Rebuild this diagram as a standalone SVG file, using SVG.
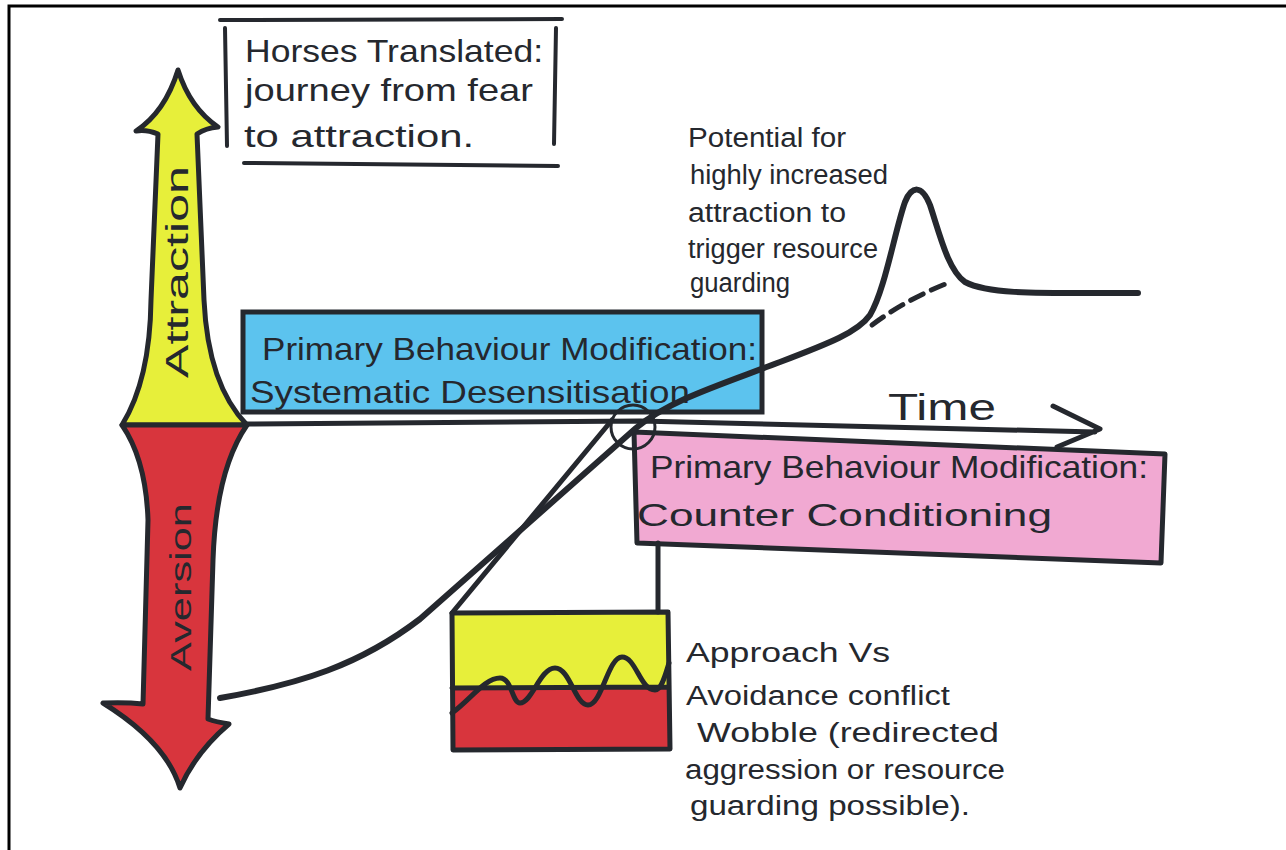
<svg xmlns="http://www.w3.org/2000/svg" width="1286" height="850" viewBox="0 0 1286 850">
<style>
.ink{fill:none;stroke:#25282e;stroke-linecap:round;stroke-linejoin:round}
.t{font-family:"Liberation Sans","Open Sans",sans-serif;fill:#25282e}
.big{font-size:32px}
.mid{font-size:27px}
</style>
<rect width="1286" height="850" fill="#ffffff"/>
<path d="M9,850 L9,6 L1286,6" fill="none" stroke="#000" stroke-width="3"/>

<g id="title">
  <path class="ink" stroke-width="4" d="M220,20 L562,19 M225,28 L227,146 M556,28 L554,144 M244,163 L558,166"/>
  <text class="t big" x="245" y="62" textLength="298" lengthAdjust="spacingAndGlyphs">Horses Translated:</text>
  <text class="t big" x="245" y="101" textLength="288" lengthAdjust="spacingAndGlyphs">journey from fear</text>
  <text class="t big" x="244" y="147" textLength="230" lengthAdjust="spacingAndGlyphs">to attraction.</text>
</g>

<g id="attraction">
  <path d="M122,425 Q150,380 151,300 L158,134 Q146,129 136,131 Q165,112 178,70 Q190,108 218,127 Q206,128 197,134 L204,300 Q208,385 247,425 Z" fill="#e7ef3a" stroke="#25282e" stroke-width="5" stroke-linejoin="round"/>
  <text class="t" font-size="31" transform="translate(188,272) rotate(-90)" text-anchor="middle" textLength="212" lengthAdjust="spacingAndGlyphs">Attraction</text>
</g>

<g id="aversion">
  <path d="M122,425 L247,425 Q216,470 213,560 L208,719 Q216,722 229,724 Q196,752 180,788 Q166,742 103,703 Q126,702 143,704 L148,520 Q146,460 122,425 Z" fill="#d8353d" stroke="#25282e" stroke-width="5" stroke-linejoin="round"/>
  <text class="t" font-size="30" transform="translate(191,587) rotate(-90)" text-anchor="middle" textLength="168" lengthAdjust="spacingAndGlyphs">Aversion</text>
</g>

<g id="desensitisation">
  <rect x="243" y="312" width="519" height="100" fill="#5cc3ee" stroke="#25282e" stroke-width="5"/>
  <text class="t big" x="262" y="360" textLength="495" lengthAdjust="spacingAndGlyphs">Primary Behaviour Modification:</text>
  <text class="t big" x="250" y="403" textLength="440" lengthAdjust="spacingAndGlyphs">Systematic Desensitisation</text>
</g>

<g id="counter-conditioning">
  <path d="M634,432 L1165,454 L1161,563 L637,543 Z" fill="#f1a9d2" stroke="#25282e" stroke-width="5" stroke-linejoin="round"/>
  <text class="t big" x="650" y="478" textLength="498" lengthAdjust="spacingAndGlyphs">Primary Behaviour Modification:</text>
  <text class="t big" x="637" y="526" textLength="415" lengthAdjust="spacingAndGlyphs">Counter Conditioning</text>
</g>

<g id="time-axis">
  <path class="ink" stroke-width="5" d="M245,424 L640,421 L1095,432 M1053,406 L1100,429 L1057,447"/>
  <text class="t" font-size="36" x="888" y="420" textLength="108" lengthAdjust="spacingAndGlyphs">Time</text>
</g>

<g id="wobble-box">
  <rect x="452" y="613" width="216" height="75" fill="#e7ef3a"/>
  <rect x="452" y="688" width="216" height="62" fill="#d8353d"/>
  <path class="ink" stroke-width="5" d="M452,613 L668,612 L670,749 L453,750 Z M452,688 L668,687"/>
  <path class="ink" stroke-width="5" d="M452,713 C470,700 485,678 500,678 C512,678 512,703 520,703 C532,703 540,668 555,668 C570,668 575,705 588,705 C602,705 608,657 622,657 C636,657 640,690 655,690 C662,690 666,672 669,663"/>
</g>

<g id="connectors">
  <path class="ink" stroke-width="6" d="M220,698 C300,684 360,665 420,619 L636,428 C670,400 720,385 780,362 C830,343 858,332 870,315 C885,290 895,230 905,202 C912,185 922,185 930,205 C940,235 948,270 965,282 C990,295 1040,293 1138,293"/>
  <path class="ink" stroke-width="5" stroke-dasharray="14 9" d="M872,325 Q905,300 948,283"/>
  <path class="ink" stroke-width="5" d="M452,613 L612,420 M658,543 L658,612"/>
  <circle class="ink" cx="633" cy="427" r="22" stroke-width="3"/>
</g>

<g id="peak-note">
  <text class="t mid" x="688" y="147" textLength="158" lengthAdjust="spacingAndGlyphs">Potential for</text>
  <text class="t mid" x="690" y="184" textLength="198" lengthAdjust="spacingAndGlyphs">highly increased</text>
  <text class="t mid" x="688" y="222" textLength="158" lengthAdjust="spacingAndGlyphs">attraction to</text>
  <text class="t mid" x="688" y="258" textLength="190" lengthAdjust="spacingAndGlyphs">trigger resource</text>
  <text class="t mid" x="690" y="292" textLength="100" lengthAdjust="spacingAndGlyphs">guarding</text>
</g>

<g id="wobble-note">
  <text class="t mid" x="686" y="662" textLength="204" lengthAdjust="spacingAndGlyphs">Approach Vs</text>
  <text class="t mid" x="686" y="705" textLength="264" lengthAdjust="spacingAndGlyphs">Avoidance conflict</text>
  <text class="t mid" x="697" y="742" textLength="302" lengthAdjust="spacingAndGlyphs">Wobble (redirected</text>
  <text class="t mid" x="685" y="779" textLength="320" lengthAdjust="spacingAndGlyphs">aggression or resource</text>
  <text class="t mid" x="690" y="815" textLength="280" lengthAdjust="spacingAndGlyphs">guarding possible).</text>
</g>
</svg>
